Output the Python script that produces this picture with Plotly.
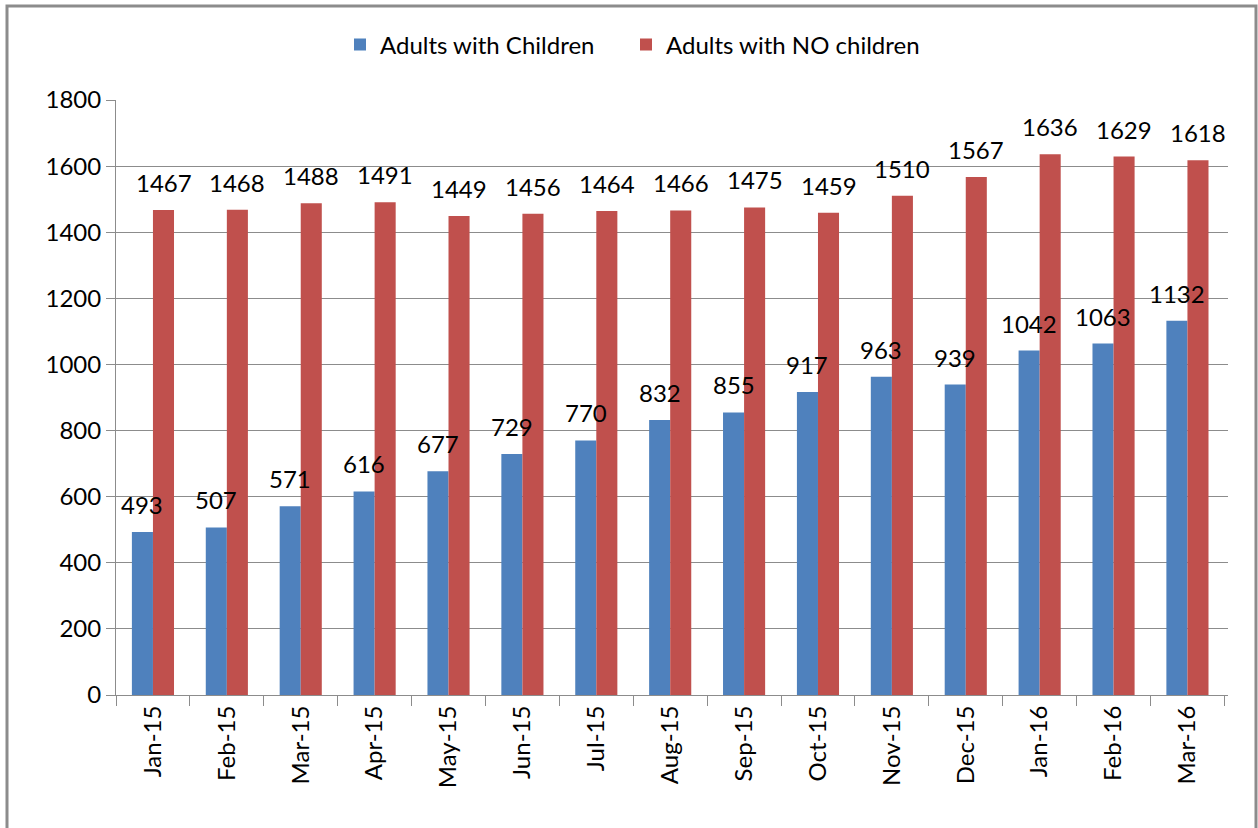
import plotly.graph_objects as go

months = ["Jan-15", "Feb-15", "Mar-15", "Apr-15", "May-15", "Jun-15", "Jul-15", "Aug-15",
          "Sep-15", "Oct-15", "Nov-15", "Dec-15", "Jan-16", "Feb-16", "Mar-16"]
with_children = [493, 507, 571, 616, 677, 729, 770, 832, 855, 917, 963, 939, 1042, 1063, 1132]
no_children = [1467, 1468, 1488, 1491, 1449, 1456, 1464, 1466, 1475, 1459, 1510, 1567, 1636, 1629, 1618]

FONT = "Lato"
FS = 24
W, H = 1258, 828
L, R, T, B = 116, 30, 100, 133
pw, ph = W - L - R, H - T - B
BARGAP = 0.43
bar_w = pw / len(months) * (1 - BARGAP) / 2

fig = go.Figure()
fig.add_trace(go.Bar(x=months, y=with_children, name="Adults with Children",
                     marker=dict(color="#4F81BD", line=dict(width=0)), legend="legend"))
fig.add_trace(go.Bar(x=months, y=no_children, name="Adults with NO children",
                     marker=dict(color="#C0504D", line=dict(width=0)), legend="legend2"))

annotations = []
for series, shift in ((with_children, -bar_w / 2), (no_children, bar_w / 2)):
    for m, v in zip(months, series):
        annotations.append(dict(x=m, y=v, xref="x", yref="y", text=str(v), showarrow=False,
                                xanchor="center", yanchor="bottom", xshift=shift, yshift=11,
                                font=dict(size=FS, family=FONT, color="#000000")))

legend_common = dict(orientation="h", xref="container", yref="container",
                     xanchor="left", y=1 - 45 / H, yanchor="middle",
                     font=dict(size=FS, family=FONT), itemwidth=30)

fig.update_layout(
    width=W, height=H,
    margin=dict(l=L, r=R, t=T, b=B, autoexpand=False),
    paper_bgcolor="white", plot_bgcolor="white",
    font=dict(family=FONT, size=FS, color="#000000"),
    barmode="group", bargap=BARGAP, bargroupgap=0,
    showlegend=True,
    legend=dict(x=340 / W, **legend_common),
    legend2=dict(x=626 / W, **legend_common),
    xaxis=dict(type="category", showgrid=False, showline=True, linecolor="#8c8c8c", linewidth=1,
               ticks="outside", tickson="boundaries", ticklen=10, tickcolor="#8c8c8c",
               tickangle=-90, tickfont=dict(size=FS, family=FONT), automargin=False),
    yaxis=dict(range=[0, 1800], dtick=200, showgrid=True, gridcolor="#8c8c8c", gridwidth=1,
               showline=True, linecolor="#8c8c8c", linewidth=1, ticks="outside", ticklen=9,
               tickcolor="#8c8c8c", zeroline=False, tickfont=dict(size=FS, family=FONT),
               automargin=False),
    annotations=annotations,
    shapes=[dict(type="rect", xref="paper", yref="paper",
                 x0=(7 - L) / pw, x1=(1256 - L) / pw,
                 y0=(H - B - 840) / ph, y1=(H - B - 6) / ph,
                 line=dict(color="#8c8c8c", width=3), fillcolor="rgba(0,0,0,0)", layer="below")],
)

fig.write_html("out.html", config={"displayModeBar": False},
               post_script="document.body.style.margin='0px';")
